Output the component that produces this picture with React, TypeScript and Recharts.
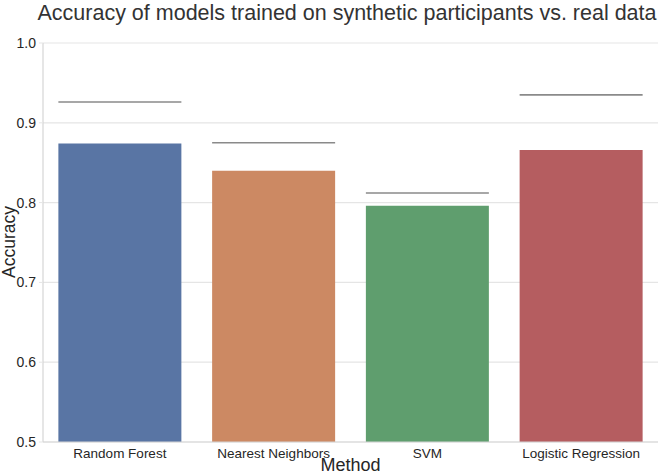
import React from 'react';
import { ComposedChart, Bar, XAxis, YAxis, CartesianGrid, Cell } from 'recharts';

const methods = ['Random Forest', 'Nearest Neighbors', 'SVM', 'Logistic Regression'];
const syntheticAcc = [0.874, 0.840, 0.796, 0.866];
const realAcc = [0.926, 0.875, 0.812, 0.935];
const yTicks = [0.5, 0.6, 0.7, 0.8, 0.9, 1.0];
const barColors = ['#5975A4', '#CC8963', '#5F9E6E', '#B55D60'];

const data = methods.map((m, i) => ({ method: m, synthetic: syntheticAcc[i], real: realAcc[i] }));

const FONT = '"Liberation Sans", Arial, Helvetica, sans-serif';
const BORDER = '#d6d6d6';

const RealLine = (props: any) => {
  const { x, y, width } = props;
  return <line x1={x} x2={x + width} y1={y} y2={y} stroke="#8a8a8a" strokeWidth={1.6} />;
};

export default function App() {
  return (
    <div style={{ position: 'absolute', left: 0, top: 0, width: 666, height: 476, background: '#fff', fontFamily: FONT }}>
      <svg width={666} height={32} style={{ position: 'absolute', left: 0, top: 0 }}>
        <text x={347} y={20} textAnchor="middle" fontSize={21.5} fill="#333333" fontFamily={FONT}>
          Accuracy of models trained on synthetic participants vs. real data
        </text>
      </svg>
      <ComposedChart width={666} height={476} data={data} margin={{ top: 43, right: 8, bottom: 0, left: 0 }} barCategoryGap="10%" style={{ position: 'absolute', left: 0, top: 0 }}>
        <CartesianGrid horizontal vertical={false} stroke="#e5e5e5" strokeWidth={1.2} />
        <XAxis
          dataKey="method"
          xAxisId="a"
          height={34}
          tickLine={false}
          axisLine={{ stroke: BORDER, strokeWidth: 1.2 }}
          tick={{ fill: '#262626', fontSize: 13.5, fontFamily: FONT }}
          tickMargin={0}
          label={{
            content: (p: any) => {
              const vb = p.viewBox;
              return (
                <text x={vb.x + vb.width / 2} y={471} textAnchor="middle" fontSize={18} fill="#262626" fontFamily={FONT}>
                  Method
                </text>
              );
            },
          }}
        />
        <XAxis dataKey="method" xAxisId="b" hide />
        <YAxis
          width={43}
          domain={[0.5, 1.0]}
          ticks={yTicks}
          tickFormatter={(v: number) => v.toFixed(1)}
          tickLine={{ stroke: '#e5e5e5' }}
          tickSize={4}
          tickMargin={3}
          axisLine={{ stroke: BORDER, strokeWidth: 1.2 }}
          tick={{ fill: '#262626', fontSize: 14, fontFamily: FONT }}
          label={{
            content: () => (
              <text x={0} y={0} transform="translate(15,242) rotate(-90)" textAnchor="middle" fontSize={17.5} fill="#262626" fontFamily={FONT}>
                Accuracy
              </text>
            ),
          }}
        />
        <YAxis
          yAxisId="r"
          orientation="right"
          width={0}
          domain={[0.5, 1.0]}
          tick={false}
          tickLine={false}
          axisLine={{ stroke: BORDER, strokeWidth: 1.2 }}
        />
        <Bar dataKey="synthetic" xAxisId="a" isAnimationActive={false}>
          {data.map((d, i) => (
            <Cell key={d.method} fill={barColors[i]} />
          ))}
        </Bar>
        <Bar dataKey="real" xAxisId="b" isAnimationActive={false} shape={<RealLine />} />
      </ComposedChart>
    </div>
  );
}
